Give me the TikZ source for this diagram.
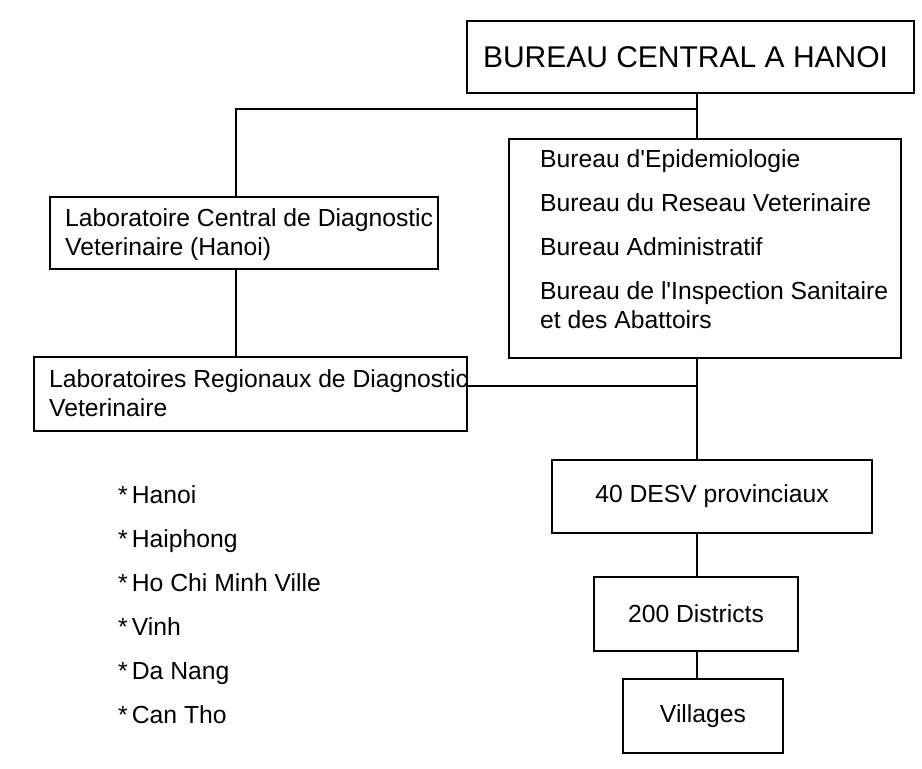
\documentclass[tikz,border=0pt]{standalone}
\usepackage{fontspec}
\setmainfont{Liberation Sans}[Ligatures=TeXOff]

\tikzset{
  orgfont/.style={font=\fontsize{24.7pt}{29pt}\selectfont},
  orgbox/.style={draw, rectangle, line width=1.6pt, inner sep=0pt, orgfont},
  boxtext/.style={inner sep=0pt, align=left, anchor=north west, orgfont},
  citytext/.style={inner sep=0pt, anchor=base west, orgfont},
  link/.style={line width=1.6pt},
}

\begin{document}
\begin{tikzpicture}[x=1pt,y=-1pt]
  \useasboundingbox[fill=white] (0,0) rectangle (922,769);

  % Kaders
  \node[orgbox, inner xsep=16pt, text width=415pt, align=flush left, minimum height=72pt, font=\fontsize{30pt}{36pt}\selectfont] (central) at (690.5,57) {BUREAU CENTRAL A HANOI};
  \node[orgbox, minimum width=392pt, minimum height=219pt] (bureaux) at (705,248.5) {};
  \node[orgbox, minimum width=388pt, minimum height=72pt] (labcentral) at (244,233) {};
  \node[orgbox, minimum width=433pt, minimum height=74pt] (labregional) at (250.5,394) {};
  \node[orgbox, minimum width=320pt, minimum height=73pt] (desv) at (712,496.5) {40 DESV provinciaux};
  \node[orgbox, minimum width=204pt, minimum height=74pt] (districts) at (696,614) {200 Districts};
  \node[orgbox, minimum width=160pt, minimum height=74pt] (villages) at (703,716) {Villages};

  % Teksten in de kaders
  \node[boxtext] (bureauxtext) at (540,149) {Bureau d'Epidemiologie\\[15pt]Bureau du Reseau Veterinaire\\[15pt]Bureau Administratif\\[15pt]Bureau de l'Inspection Sanitaire\\et des Abattoirs};
  \node[boxtext] (labcentraltext) at (65,208) {Laboratoire Central de Diagnostic\\Veterinaire (Hanoi)};
  \node[boxtext] (labregionaltext) at (49,369) {Laboratoires Regionaux de Diagnostic\\Veterinaire};

  % Regionale laboratoria
  \foreach \city [count=\i from 0] in {Hanoi, Haiphong, Ho Chi Minh Ville, Vinh, Da Nang, Can Tho}
    \node[citytext] (city\i) at (118,{503+44*\i}) {*\,\city};

  % Verbindingen
  \coordinate (spine) at (697,0);
  \coordinate (labline) at (236,0);
  \coordinate (fork) at (697,109);
  \coordinate (regjoin) at (697,386);

  \draw[link] (central.south -| spine) -- (bureaux.north -| spine);
  \draw[link] (fork) -| (labcentral.north -| labline);
  \draw[link] (labcentral.south -| labline) -- (labregional.north -| labline);
  \draw[link] (labregional.east |- regjoin) -- (regjoin);
  \draw[link] (bureaux.south -| spine) -- (desv.north -| spine);
  \draw[link] (desv.south -| spine) -- (districts.north -| spine);
  \draw[link] (districts.south -| spine) -- (villages.north -| spine);
\end{tikzpicture}
\end{document}
